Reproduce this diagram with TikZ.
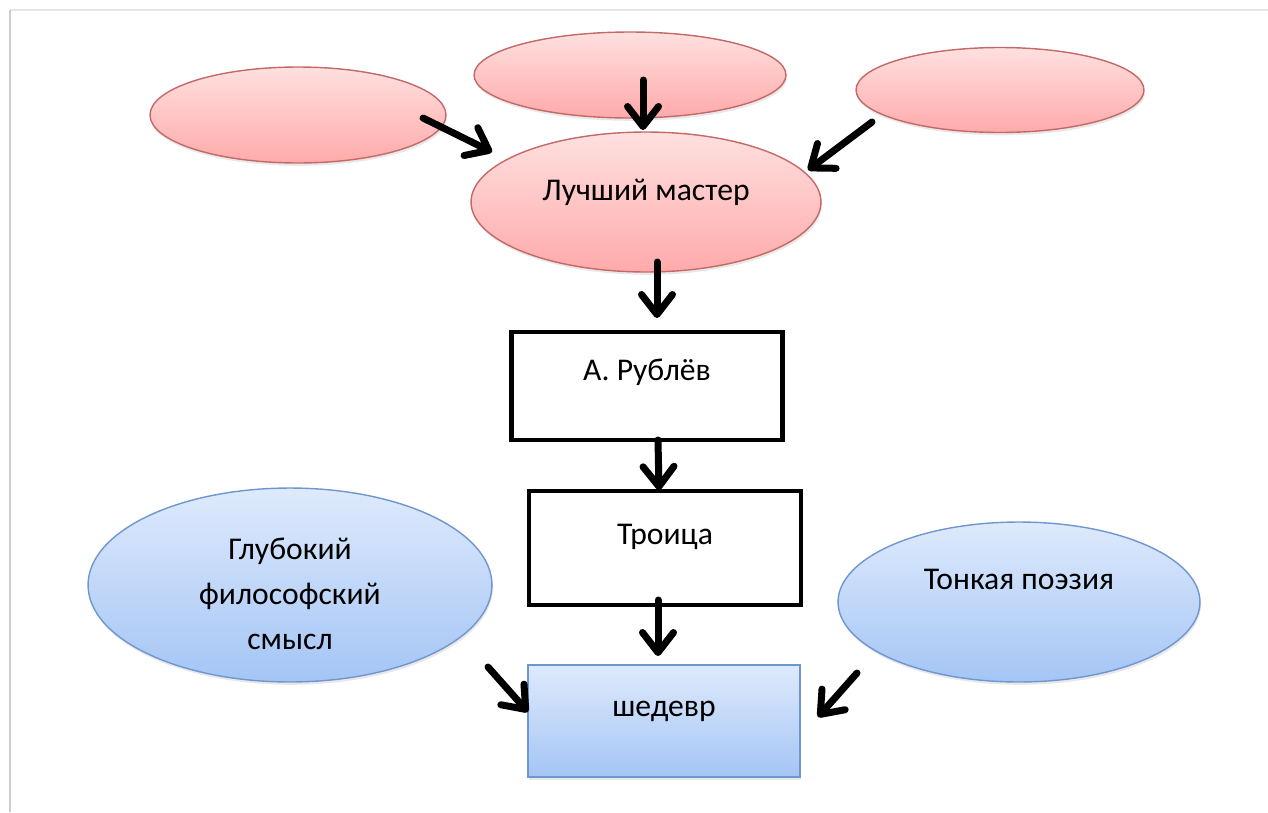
\documentclass[tikz,border=0pt]{standalone}
\usepackage{fontspec}
\setmainfont{Carlito}
\usetikzlibrary{shapes.geometric,arrows.meta,shadows}
\definecolor{pinktop}{RGB}{255,224,224}
\definecolor{pinkbot}{RGB}{255,170,170}
\definecolor{pinkline}{RGB}{196,104,104}
\definecolor{bluetop}{RGB}{222,234,252}
\definecolor{bluebot}{RGB}{164,197,245}
\definecolor{blueline}{RGB}{112,150,208}

\begin{document}
\begin{tikzpicture}[x=0.02cm, y=-0.02cm,
    >=Straight Barb,
    pinkoval/.style={ellipse, draw=pinkline, line width=0.8pt, inner sep=0pt,
                     top color=pinktop, bottom color=pinkbot,
                     drop shadow={shadow xshift=0.6pt, shadow yshift=-1.6pt, opacity=0.18},
                     font=\fontsize{18}{24}\selectfont},
    blueoval/.style={ellipse, draw=blueline, line width=0.8pt, inner sep=0pt,
                     top color=bluetop, bottom color=bluebot,
                     drop shadow={shadow xshift=0.6pt, shadow yshift=-1.6pt, opacity=0.18},
                     font=\fontsize{18}{25.5}\selectfont, align=center},
    plainbox/.style={draw, line width=2.4pt, fill=white, minimum width=5.42cm,
                     minimum height=2.2cm, font=\fontsize{18}{24}\selectfont},
    arrow/.style={-{Straight Barb[length=0.4cm, width=0.62cm, round]},
                  line width=0.14cm, line cap=round},
  ]
  \useasboundingbox (0,0) rectangle (1268,812);

  % frame
  \draw[gray!20, line width=1.5pt] (1268,10) -- (10,10);
  \draw[gray!40, line width=1.5pt] (10,812) -- (10,10);

  % top ovals
  \node[pinkoval, minimum width=5.92cm, minimum height=1.92cm] (srcA) at (298,115) {};
  \node[pinkoval, minimum width=6.24cm, minimum height=1.72cm] (srcB) at (630,75) {};
  \node[pinkoval, minimum width=5.76cm, minimum height=1.70cm] (srcC) at (1000,90) {};
  \node[pinkoval, minimum width=7.0cm, minimum height=2.8cm, text depth=0.5cm]
    (master) at (646,202) {Лучший мастер};

  % chain of boxes
  \node[plainbox, minimum height=2.16cm, text depth=0.66cm] (rublev) at (647,386) {А. Рублёв};
  \node[plainbox, minimum width=5.44cm, minimum height=2.28cm, text depth=0.54cm]
    (troica) at (665,548) {Троица};
  \node[draw=blueline, line width=0.8pt, top color=bluetop, bottom color=bluebot,
        minimum width=5.44cm, minimum height=2.24cm, text depth=0.5cm,
        drop shadow={shadow xshift=0.6pt, shadow yshift=-1.6pt, opacity=0.18},
        font=\fontsize{18}{24}\selectfont]
    (shedevr) at (664,721) {шедевр};

  % bottom ovals
  \node[blueoval, minimum width=8.08cm, minimum height=3.88cm, text height=2.58cm]
    (meaning) at (290,585) {Глубокий\\философский\\смысл};
  \node[blueoval, minimum width=7.24cm, minimum height=3.2cm, text depth=0.9cm]
    (poetry) at (1019,602) {Тонкая поэзия};

  % arrows
  \draw[arrow] ([shift={(125,3)}]srcA.center) -- ([shift={(-154,-50)}]master.center);
  \draw[arrow] ([shift={(13,5)}]srcB.center) -- ([shift={(-3,-72)}]master.center);
  \draw[arrow] ([shift={(-128,32)}]srcC.center) -- ([shift={(162,-32)}]master.center);
  \draw[arrow] ([shift={(11,60)}]master.center) -- ([shift={(10,-68)}]rublev.center);
  \draw[arrow] ([shift={(11,54)}]rublev.center) -- ([shift={(-6,-58)}]troica.center);
  \draw[arrow] ([shift={(-7,52)}]troica.center) -- ([shift={(-6,-65)}]shedevr.center);
  \draw[arrow] ([shift={(198,82)}]meaning.center) -- ([shift={(-136,-9)}]shedevr.center);
  \draw[arrow] ([shift={(-162,71)}]poetry.center) -- ([shift={(154,-4)}]shedevr.center);
\end{tikzpicture}
\end{document}
